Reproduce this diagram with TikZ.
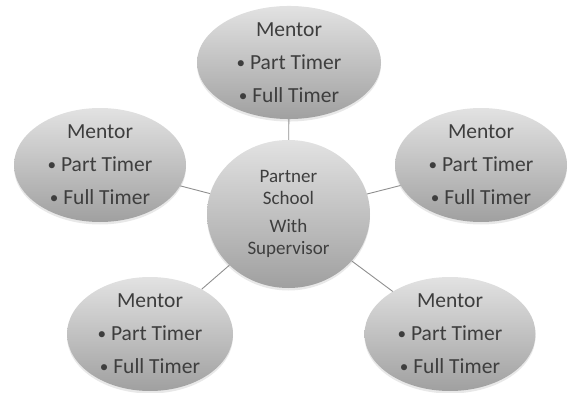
\documentclass[tikz,border=0pt]{standalone}
\usepackage{fontspec}
\setmainfont{Carlito}
\usetikzlibrary{shapes.geometric,shadows}
\definecolor{txt}{HTML}{3E3E3E}
\definecolor{topg}{HTML}{E2E2E2}
\definecolor{botg}{HTML}{A0A0A0}
\definecolor{linec}{HTML}{8F8F8F}
\newcommand{\bul}{\raisebox{0.06em}{\scalebox{0.8}{•}}\ }
\tikzset{
  bubble/.style={ellipse, inner sep=0pt, top color=topg, bottom color=botg,
    draw=none, text=txt, align=center,
    drop shadow={opacity=0.18, shadow xshift=0pt, shadow yshift=-2.5pt}},
  mentor/.style={bubble, minimum width=172pt, minimum height=114pt,
    font=\fontsize{21.5}{33}\selectfont},
  hub/.style={bubble, minimum width=163pt, minimum height=148pt,
    font=\fontsize{19}{22}\selectfont},
  conn/.style={draw=linec, line width=0.9pt}
}
\begin{document}
\begin{tikzpicture}[x=1pt,y=-1pt]
\useasboundingbox (0,0) rectangle (573,393);
\node[hub] (c) at (288.5,214) {Partner\\School\\[6pt]With\\Supervisor};
\node[mentor, minimum width=184pt, minimum height=111pt] (t) at (289,62.5) {Mentor\\\bul Part Timer\\\bul Full Timer};
\node[mentor] (l) at (100,165) {Mentor\\\bul Part Timer\\\bul Full Timer};
\node[mentor] (r) at (481,165) {Mentor\\\bul Part Timer\\\bul Full Timer};
\node[mentor, minimum width=166pt] (bl) at (150,334) {Mentor\\\bul Part Timer\\\bul Full Timer};
\node[mentor, minimum width=171pt] (br) at (450,334) {Mentor\\\bul Part Timer\\\bul Full Timer};
\draw[conn] (c) -- (t);
\draw[conn] (c) -- (l);
\draw[conn] (c) -- (r);
\draw[conn] (c) -- (bl);
\draw[conn] (c) -- (br);
\end{tikzpicture}
\end{document}
